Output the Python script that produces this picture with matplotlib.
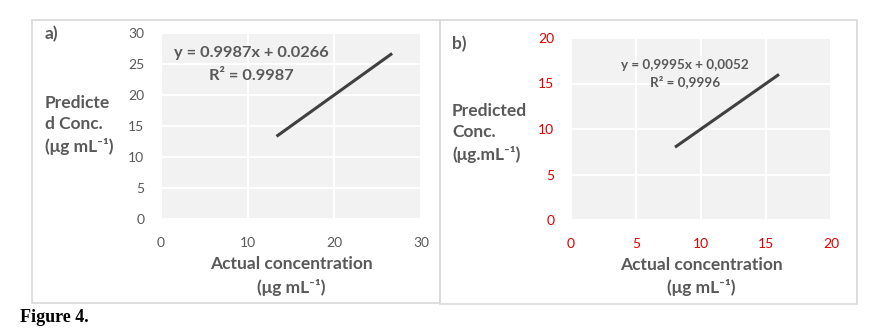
import matplotlib
matplotlib.use("Agg")
import matplotlib.pyplot as plt
from matplotlib.patches import Rectangle

# data
a_actual = [13.33, 26.67]
a_pred = [13.33, 26.7]
a_ticks = [0, 10, 20, 30]
a_yticks = [0, 5, 10, 15, 20, 25, 30]
a_eq = "y = 0.9987x + 0.0266\nR² = 0.9987"

b_actual = [8, 16]
b_pred = [8, 16]
b_ticks = [0, 5, 10, 15, 20]
b_yticks = [0, 5, 10, 15, 20]
b_eq = "y = 0,9995x + 0,0052\nR² = 0,9996"

FONT = ['Lato', 'DejaVu Sans']
plt.rcParams['font.family'] = FONT
GRAY = '#595959'
RED = '#e00000'

W, H = 885, 331
fig = plt.figure(figsize=(W / 100, H / 100), dpi=100)

def fx(x):
    return x / W

def fy(y):
    return 1 - y / H

# panel borders
for (x0, y0, x1, y1) in [(32, 20, 440, 303), (440, 20, 857, 304)]:
    fig.patches.append(Rectangle((fx(x0), fy(y1)), fx(x1 - x0), (y1 - y0) / H,
                                 transform=fig.transFigure, fill=False,
                                 edgecolor='#d9d9d9', linewidth=1.2))

def make_ax(box, xt, yt, xs, ys, tick_color):
    x0, y0, x1, y1 = box
    ax = fig.add_axes([fx(x0), fy(y1), fx(x1 - x0), (y1 - y0) / H])
    ax.set_facecolor('#f2f2f2')
    ax.plot(xs, ys, color='#404040', linewidth=2.2, solid_capstyle='butt')
    ax.set_xlim(xt[0], xt[-1])
    ax.set_ylim(yt[0], yt[-1])
    ax.set_xticks(xt)
    ax.set_yticks(yt)
    ax.grid(True, color='white', linewidth=1.5)
    ax.set_axisbelow(True)
    for s in ax.spines.values():
        s.set_visible(False)
    ax.tick_params(length=0, labelsize=10, labelcolor=tick_color)
    ax.tick_params(axis='x', pad=13)
    ax.tick_params(axis='y', pad=12)
    return ax

ax1 = make_ax((161, 33, 421, 219), a_ticks, a_yticks, a_actual, a_pred, GRAY)
ax2 = make_ax((571, 38, 831, 220), b_ticks, b_yticks, b_actual, b_pred, RED)

LBL = 12.5

# panel a texts
fig.text(fx(45), fy(34), "a)", fontsize=12.5, fontweight='bold', color=GRAY,
         ha='left', va='center')
fig.text(fx(45), fy(125), "Predicte\nd Conc.\n(μg mL⁻¹)", fontsize=LBL, fontweight='bold',
         color=GRAY, ha='left', va='center', linespacing=1.43)
fig.text(fx(291), fy(264), "Actual concentration", fontsize=LBL, fontweight='bold',
         color=GRAY, ha='center', va='center')
fig.text(fx(291), fy(287), "(μg mL⁻¹)", fontsize=LBL, fontweight='bold',
         color=GRAY, ha='center', va='center')
fig.text(fx(251), fy(64.5), a_eq, fontsize=11.8, fontweight='bold', color=GRAY,
         ha='center', va='center', linespacing=1.8)

# panel b texts
fig.text(fx(452), fy(44), "b)", fontsize=12.5, fontweight='bold', color=GRAY,
         ha='left', va='center')
fig.text(fx(452), fy(133), "Predicted\nConc.\n(μg.mL⁻¹)", fontsize=LBL, fontweight='bold',
         color=GRAY, ha='left', va='center', linespacing=1.43)
fig.text(fx(701), fy(265), "Actual concentration", fontsize=LBL, fontweight='bold',
         color=GRAY, ha='center', va='center')
fig.text(fx(701), fy(287), "(μg mL⁻¹)", fontsize=LBL, fontweight='bold',
         color=GRAY, ha='center', va='center')
fig.text(fx(685), fy(73.5), b_eq, fontsize=9.7, fontweight='bold', color=GRAY,
         ha='center', va='center', linespacing=1.45)

fig.text(fx(20), fy(318), "Figure 4.", fontsize=13, fontweight='bold', color='black',
         family=['Liberation Serif', 'DejaVu Serif'], ha='left', va='center')

fig.savefig("out.png", dpi=100)
